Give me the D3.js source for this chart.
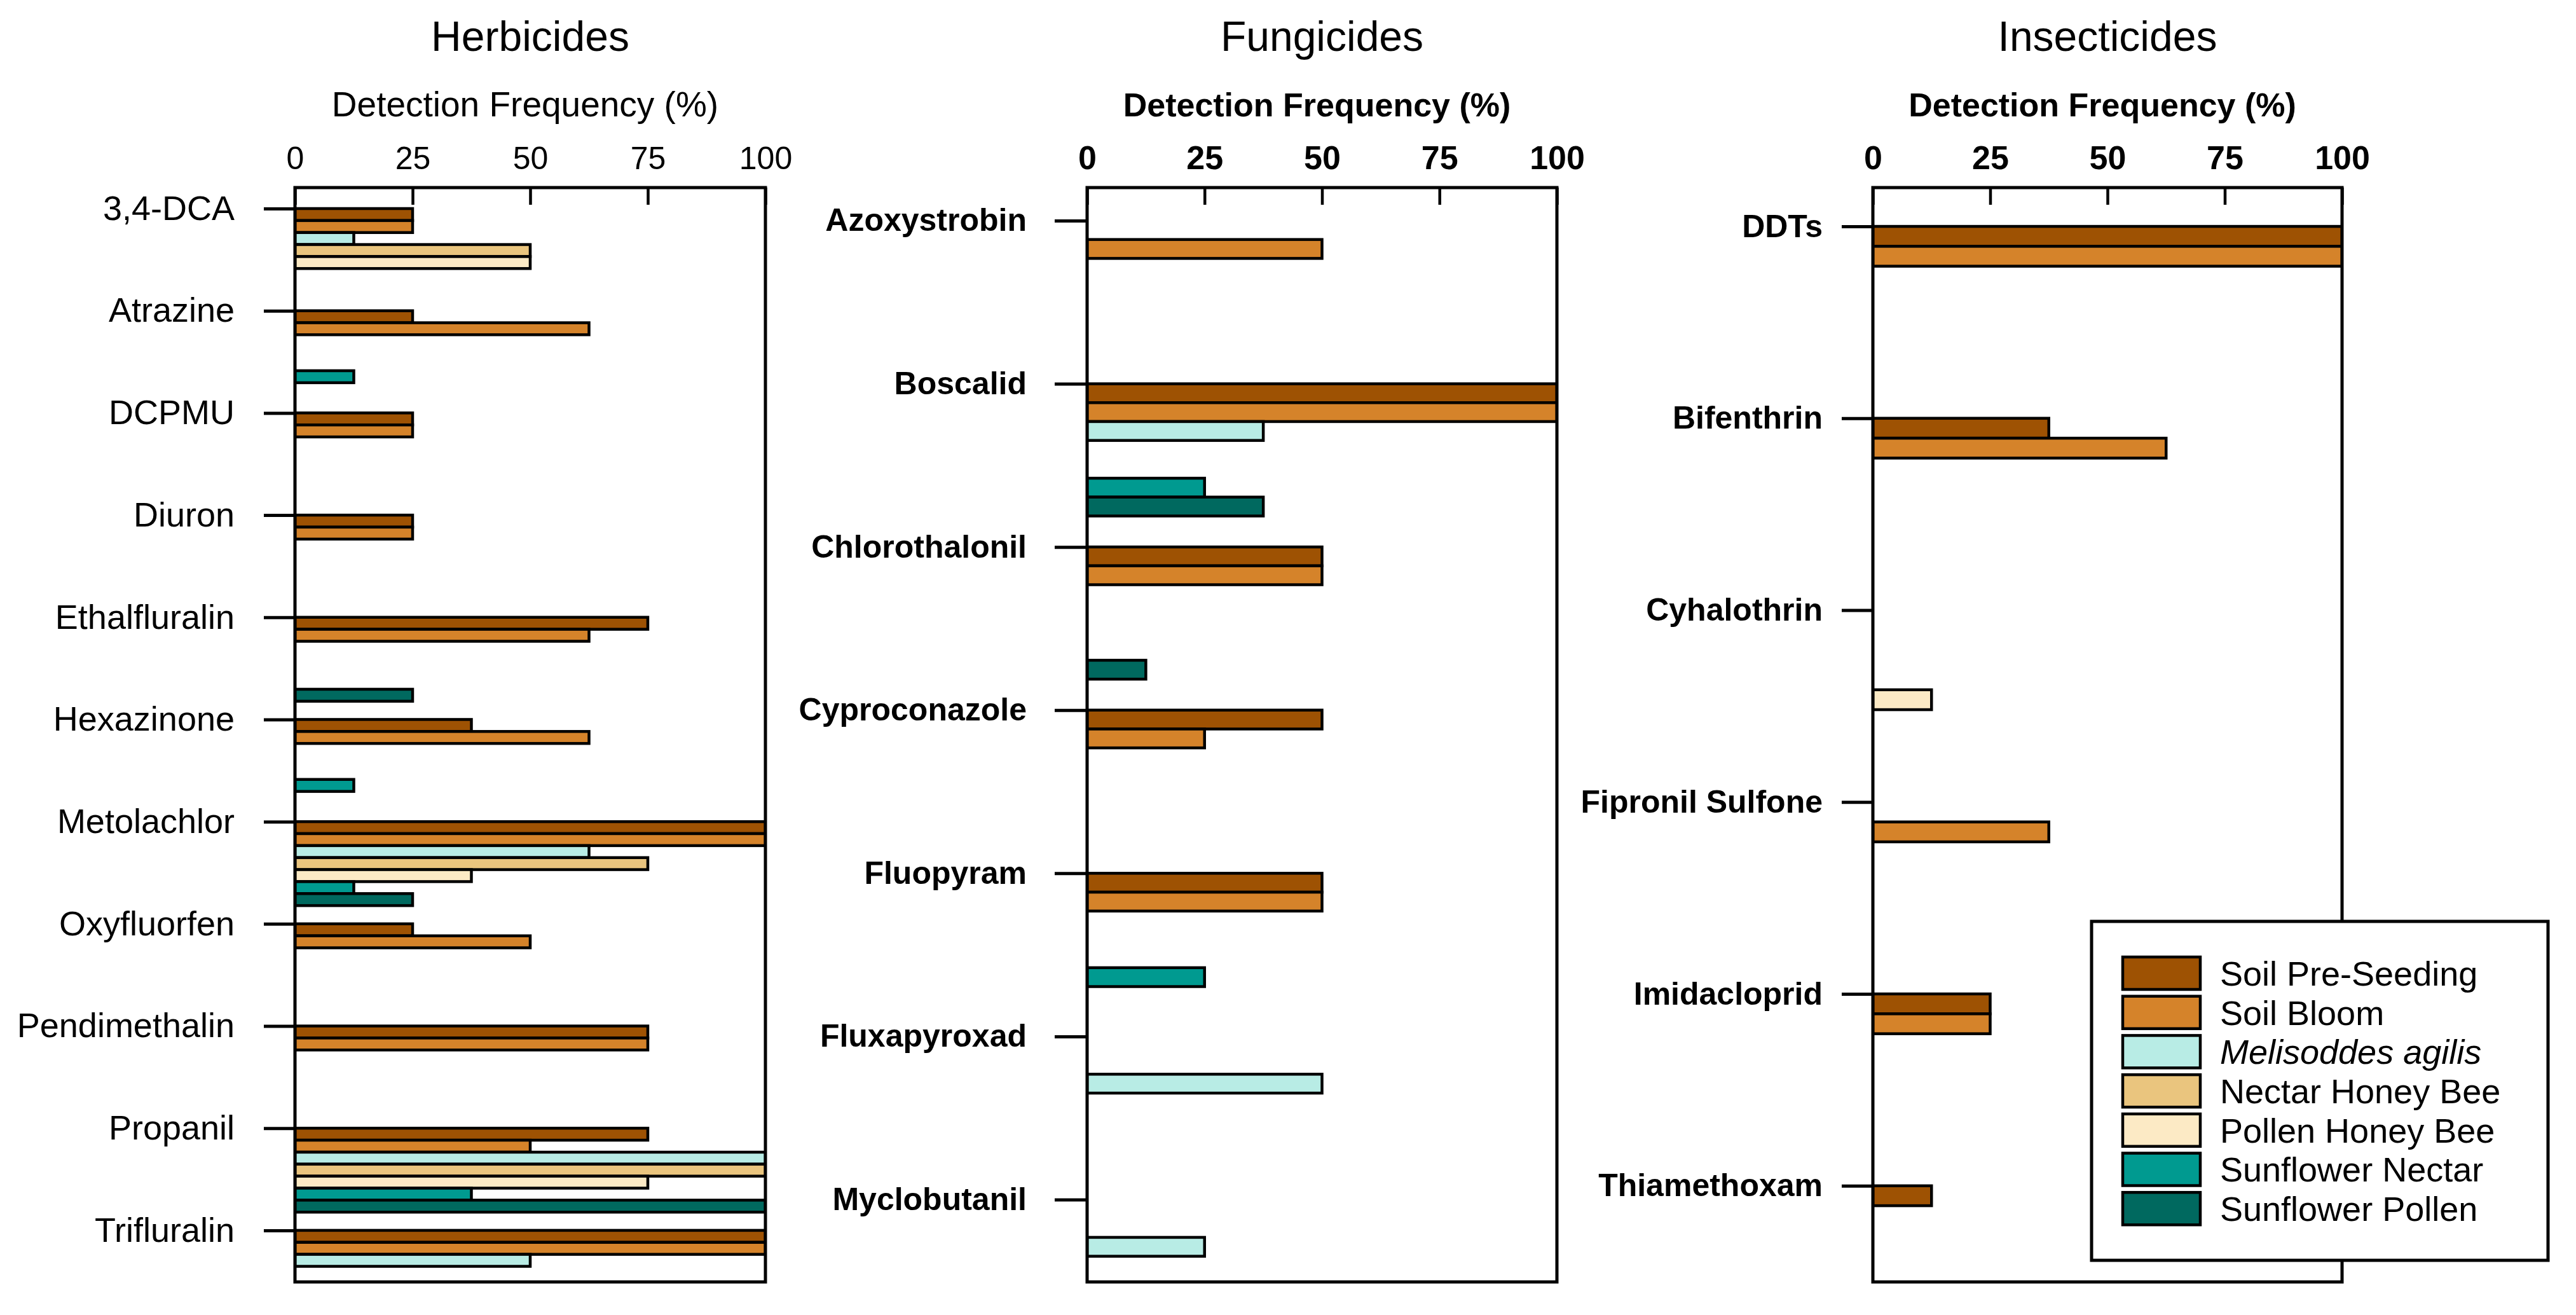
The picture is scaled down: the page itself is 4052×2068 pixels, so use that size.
<!DOCTYPE html>
<html><head><meta charset="utf-8">
<script src="https://cdn.jsdelivr.net/npm/d3@7"></script>
<style>
body{margin:0;background:#fff}
svg{display:block}
text{font-family:"Liberation Sans",Arial,Helvetica,sans-serif;fill:#000}
</style>
</head><body>
<svg id="chart" width="4052" height="2068"></svg>
<script>
// ---------- data ----------
const seriesNames = ["Soil Pre-Seeding","Soil Bloom","Melisoddes agilis","Nectar Honey Bee","Pollen Honey Bee","Sunflower Nectar","Sunflower Pollen"];
const seriesColors = ["#9E5203","#D5832A","#B8ECE5","#EAC57E","#FCEAC5","#009A90","#00695F"];
const xTicks = [0,25,50,75,100];
const titles = ["Herbicides","Fungicides","Insecticides"];
const axisTitle = "Detection Frequency (%)";

const herbCategories = ["3,4-DCA","Atrazine","DCPMU","Diuron","Ethalfluralin","Hexazinone","Metolachlor","Oxyfluorfen","Pendimethalin","Propanil","Trifluralin"];
const herbSoilPre     = [25,25,25,25,75,37.5,100,25,75,75,100];
const herbSoilBloom   = [25,62.5,25,25,62.5,62.5,100,50,75,50,100];
const herbMelisoddes  = [12.5,0,0,0,0,0,62.5,0,0,100,50];
const herbNectarHB    = [50,0,0,0,0,0,75,0,0,100,0];
const herbPollenHB    = [50,0,0,0,0,0,37.5,0,0,75,0];
const herbSunNectar   = [0,12.5,0,0,0,12.5,12.5,0,0,37.5,0];
const herbSunPollen   = [0,0,0,0,25,0,25,0,0,100,0];

const fungCategories = ["Azoxystrobin","Boscalid","Chlorothalonil","Cyproconazole","Fluopyram","Fluxapyroxad","Myclobutanil"];
const fungSoilPre     = [0,100,50,50,50,0,0];
const fungSoilBloom   = [50,100,50,25,50,0,0];
const fungMelisoddes  = [0,37.5,0,0,0,50,25];
const fungNectarHB    = [0,0,0,0,0,0,0];
const fungPollenHB    = [0,0,0,0,0,0,0];
const fungSunNectar   = [0,25,0,0,25,0,0];
const fungSunPollen   = [0,37.5,12.5,0,0,0,0];

const insCategories = ["DDTs","Bifenthrin","Cyhalothrin","Fipronil Sulfone","Imidacloprid","Thiamethoxam"];
const insSoilPre      = [100,37.5,0,0,25,12.5];
const insSoilBloom    = [100,62.5,0,37.5,25,0];
const insMelisoddes   = [0,0,0,0,0,0];
const insNectarHB     = [0,0,0,0,0,0];
const insPollenHB     = [0,0,12.5,0,0,0];
const insSunNectar    = [0,0,0,0,0,0];
const insSunPollen    = [0,0,0,0,0,0];

// ---------- layout ----------
const plotTop = 295, plotBottom = 2016;
const panels = [
  {title:titles[0], cats:herbCategories, series:[herbSoilPre,herbSoilBloom,herbMelisoddes,herbNectarHB,herbPollenHB,herbSunNectar,herbSunPollen],
   x0:464, x1:1204, bold:false, units:91.25, offset:1.75, pitch:8.52, tickLen:49, gap:46, catSize:54, axSize:55, tickSize:50},
  {title:titles[1], cats:fungCategories, series:[fungSoilPre,fungSoilBloom,fungMelisoddes,fungNectarHB,fungPollenHB,fungSunNectar,fungSunPollen],
   x0:1710, x1:2449, bold:true, units:57.95, offset:1.75, pitch:8.64, tickLen:51, gap:44, catSize:50, axSize:52, tickSize:52},
  {title:titles[2], cats:insCategories, series:[insSoilPre,insSoilBloom,insMelisoddes,insNectarHB,insPollenHB,insSunNectar,insSunPollen],
   x0:2946, x1:3684, bold:true, units:54.98, offset:1.95, pitch:9.64, tickLen:49, gap:30, catSize:50, axSize:52, tickSize:52}
];

const svg = d3.select("#chart");
svg.append("rect").attr("width",4052).attr("height",2068).attr("fill","#fff");

panels.forEach((p, pi) => {
  const x = d3.scaleLinear().domain([0,100]).range([p.x0, p.x1]);
  const y = d3.scaleLinear().domain([0,p.units]).range([plotTop, plotBottom]);
  const g = svg.append("g");
  const cx = (p.x0 + p.x1) / 2;
  const weight = p.bold ? "bold" : "normal";

  g.append("text").attr("x", cx).attr("y", 80).attr("text-anchor","middle")
    .style("font-size","66px").text(p.title);
  g.append("text").attr("x", cx - 8).attr("y", 183).attr("text-anchor","middle")
    .style("font-size", p.axSize + "px").style("font-weight", weight).text(axisTitle);

  const clipId = "clip" + pi;
  svg.append("clipPath").attr("id", clipId).append("rect")
    .attr("x", p.x0).attr("y", plotTop).attr("width", p.x1 - p.x0).attr("height", plotBottom - plotTop);

  const bars = g.append("g").attr("clip-path", `url(#${clipId})`);
  const barH = y(1) - y(0);
  p.series.forEach((vals, k) => {
    vals.forEach((v, i) => {
      if (v <= 0) return;
      bars.append("rect")
        .attr("x", x(0)).attr("y", y(p.offset + i * p.pitch + k))
        .attr("width", x(v) - x(0)).attr("height", barH)
        .attr("fill", seriesColors[k]).attr("stroke", "#000").attr("stroke-width", 4.5);
    });
  });

  g.append("rect").attr("x", p.x0).attr("y", plotTop).attr("width", p.x1 - p.x0).attr("height", plotBottom - plotTop)
    .attr("fill","none").attr("stroke","#000").attr("stroke-width",5);

  const ax = g.append("g").attr("transform", `translate(0,${plotTop})`)
    .call(d3.axisTop(x).tickValues(xTicks).tickSizeInner(-27).tickSizeOuter(0).tickPadding(29));
  ax.select(".domain").remove();
  ax.selectAll("line").attr("stroke","#000").attr("stroke-width",4.5);
  ax.selectAll("text").style("font-size", p.tickSize + "px").style("font-weight", weight)
    .style("font-family",'"Liberation Sans",Arial,sans-serif').attr("fill","#000");

  const yCat = d3.scaleOrdinal().domain(p.cats).range(p.cats.map((c, i) => y(p.offset + i * p.pitch)));
  const ay = g.append("g").attr("transform", `translate(${p.x0},0)`)
    .call(d3.axisLeft(yCat).tickSizeInner(p.tickLen).tickSizeOuter(0).tickPadding(p.gap));
  ay.select(".domain").remove();
  ay.selectAll("line").attr("stroke","#000").attr("stroke-width",5);
  ay.selectAll("text").style("font-size", p.catSize + "px").style("font-weight", weight)
    .style("font-family",'"Liberation Sans",Arial,sans-serif').attr("fill","#000");
});

// ---------- legend ----------
const lg = svg.append("g");
lg.append("rect").attr("x",3290).attr("y",1449).attr("width",718).attr("height",533)
  .attr("fill","#fff").attr("stroke","#000").attr("stroke-width",5);
const ly = d3.scaleLinear().domain([0,1]).range([1505, 1566.7]);
seriesNames.forEach((name, k) => {
  lg.append("rect").attr("x",3339).attr("y", ly(k)).attr("width",122).attr("height",51)
    .attr("fill", seriesColors[k]).attr("stroke","#000").attr("stroke-width",4.5);
  lg.append("text").attr("x",3492).attr("y", ly(k) + 25.5).attr("dy","0.36em")
    .style("font-size","54px").style("font-style", k === 2 ? "italic" : "normal").text(name);
});
</script>
</body></html>
